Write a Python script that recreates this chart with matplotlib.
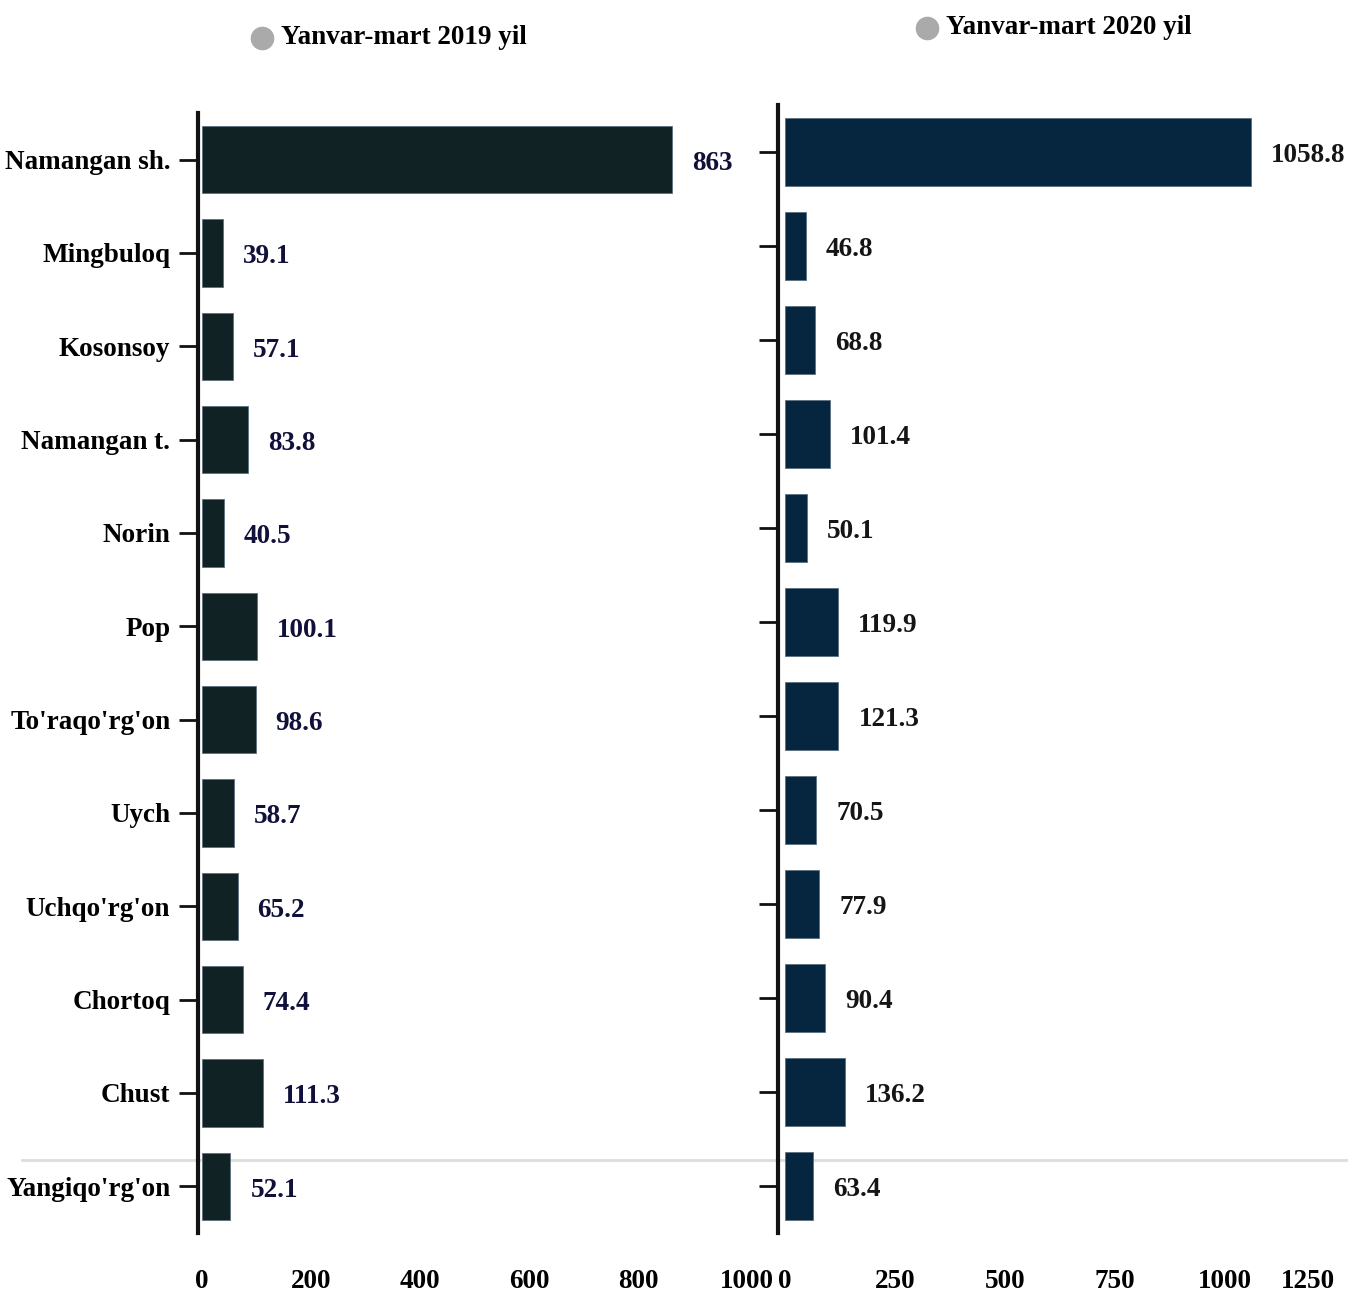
import matplotlib
matplotlib.use("Agg")
import matplotlib.pyplot as plt
from matplotlib.lines import Line2D

plt.rcParams["font.family"] = ["Liberation Serif", "DejaVu Serif"]
plt.rcParams["font.weight"] = "bold"

regions = [
    "Namangan sh.", "Mingbuloq", "Kosonsoy", "Namangan t.", "Norin", "Pop",
    "To'raqo'rg'on", "Uych", "Uchqo'rg'on", "Chortoq", "Chust", "Yangiqo'rg'on",
]
values_2019 = [863, 39.1, 57.1, 83.8, 40.5, 100.1, 98.6, 58.7, 65.2, 74.4, 111.3, 52.1]
values_2020 = [1058.8, 46.8, 68.8, 101.4, 50.1, 119.9, 121.3, 70.5, 77.9, 90.4, 136.2, 63.4]
ticks_2019 = [0, 200, 400, 600, 800, 1000]
ticks_2020 = [0, 250, 500, 750, 1000, 1250]
series_names = ["Yanvar-mart 2019 yil", "Yanvar-mart 2020 yil"]

W, H = 1348, 1292
FS = 19.5

fig = plt.figure(figsize=(W / 100, H / 100), dpi=100)


def px(x0, y_top, x1, y_bot):
    return [x0 / W, 1 - y_bot / H, (x1 - x0) / W, (y_bot - y_top) / H]


ax1 = fig.add_axes(px(198, 113, 770, 1233))
ax2 = fig.add_axes(px(778, 105, 1348, 1233))

panels = [
    (ax1, values_2019, ticks_2019, "#112224", "#10103a", (-7.3, 1042), 0.545),
    (ax2, values_2020, ticks_2020, "#062640", "#151515", (-16, 1280), 0.44),
]

pos = list(range(len(regions)))
for ax, vals, ticks, bar_c, lab_c, xlim, scale in panels:
    ax.barh(pos, vals, height=0.72, color=bar_c, edgecolor="#5a7080",
            linewidth=0.6, zorder=2)
    for p, v in zip(pos, vals):
        ax.text(v + 20 / scale, p + 0.04, f"{v:g}", va="center", ha="left",
                fontsize=FS, fontweight="bold", color=lab_c)
    ax.set_xlim(*xlim)
    ax.set_ylim(len(regions) - 0.5, -0.5)
    ax.set_xticks(ticks)
    ax.set_xticklabels([str(t) for t in ticks])
    ax.set_yticks(pos)
    for s in ("top", "right", "bottom"):
        ax.spines[s].set_visible(False)
    ax.spines["left"].set_linewidth(3)
    ax.spines["left"].set_color("#111111")
    ax.tick_params(axis="x", length=0, pad=26, labelsize=FS)
    ax.tick_params(axis="y", length=14, width=2, color="#111111", pad=6,
                   labelsize=FS)
    ax.patch.set_alpha(0)

ax1.set_yticklabels(regions)
ax2.set_yticklabels([])
# keep the last right-hand tick label inside the figure
ax2.get_xticklabels()[-1].set_horizontalalignment("right")

# faint horizontal rule
fig.add_artist(Line2D([22 / W, 1], [1 - 1160 / H] * 2, color="#dddddd", lw=2,
                      zorder=0))

# legend markers above each panel
for (cx, cy), name in zip([(262, 38), (927, 28)], series_names):
    fig.add_artist(Line2D([cx / W], [1 - cy / H], marker="o", markersize=16,
                          color="#aaaaaa", lw=0))
    fig.text((cx + 19) / W, 1 - cy / H, name, ha="left", va="center",
             fontsize=FS, fontweight="bold", color="#000000")

fig.savefig("out.png", dpi=100)
